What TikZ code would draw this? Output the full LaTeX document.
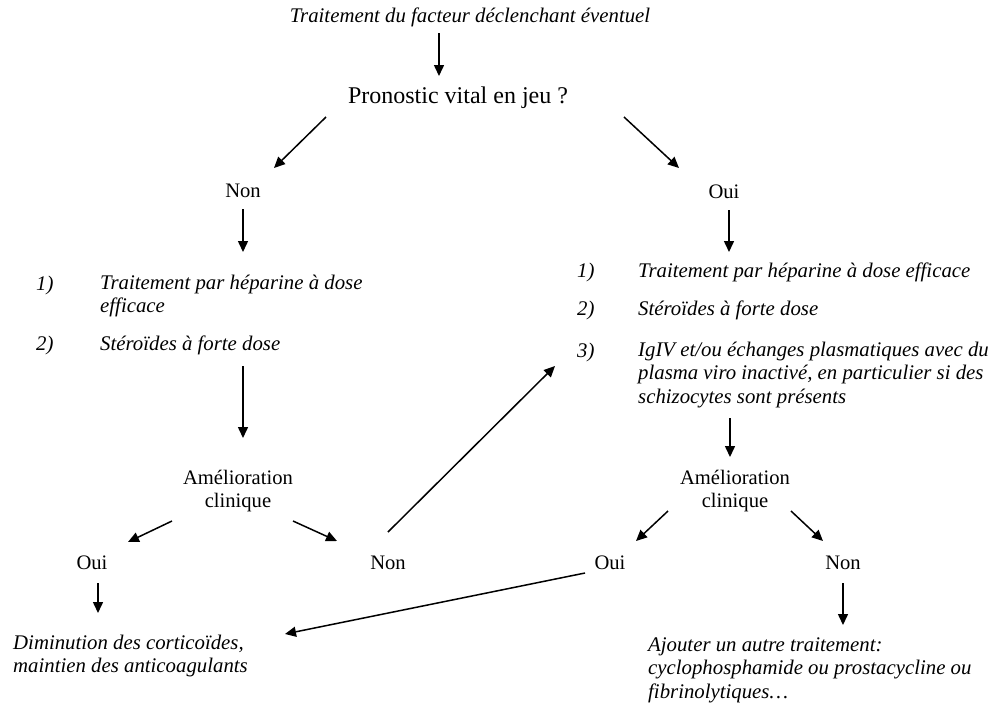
\documentclass[tikz,border=0pt]{standalone}
\usepackage{fontspec}
\setmainfont{Liberation Serif}
\usetikzlibrary{arrows.meta}
\tikzset{
  txt/.style={inner sep=0pt, font=\fontsize{20.6}{23.5}\selectfont},
  itxt/.style={inner sep=0pt, font=\fontsize{20.8}{23.5}\selectfont\itshape, align=left},
  bigtxt/.style={inner sep=0pt, font=\fontsize{24}{28}\selectfont},
  arr/.style={line width=1.5pt, -{Triangle[length=11pt,width=10pt]}},
}
\begin{document}
\begin{tikzpicture}[x=1pt,y=-1pt]
\fill[white] (0,0) rectangle (991,705);
\useasboundingbox (0,0) rectangle (991,705);

% texts
\node[itxt] (top) at (470,17) {Traitement du facteur déclenchant éventuel};
\node[bigtxt] (prono) at (458,98) {Pronostic vital en jeu ?};
\node[txt] (nonA) at (243,191) {Non};
\node[txt] (ouiA) at (724,192) {Oui};

\node[itxt, anchor=west] (l1n) at (36,285) {1)};
\node[itxt, anchor=west] (l1) at (100,296) {Traitement par héparine à dose\\efficace};
\node[itxt, anchor=west] (l2n) at (36,345) {2)};
\node[itxt, anchor=west] (l2) at (100,345) {Stéroïdes à forte dose};

\node[itxt, anchor=west] (r1n) at (577,272) {1)};
\node[itxt, anchor=west] (r1) at (638,272) {Traitement par héparine à dose efficace};
\node[itxt, anchor=west] (r2n) at (577,310) {2)};
\node[itxt, anchor=west] (r2) at (638,310) {Stéroïdes à forte dose};
\node[itxt, anchor=west] (r3n) at (577,352) {3)};
\node[itxt, anchor=west] (r3) at (638,375) {IgIV et/ou échanges plasmatiques avec du\\plasma viro inactivé, en particulier si des\\schizocytes sont présents};

\node[txt, align=center] (amL) at (238,491) {Amélioration\\clinique};
\node[txt, align=center] (amR) at (735,491) {Amélioration\\clinique};

\node[txt] (ouiL) at (92,563) {Oui};
\node[txt] (nonL) at (388,563) {Non};
\node[txt] (ouiR) at (610,563) {Oui};
\node[txt] (nonR) at (843,563) {Non};

\node[itxt, anchor=west] (dim) at (13,656) {Diminution des corticoïdes,\\maintien des anticoagulants};
\node[itxt, anchor=west] (ajo) at (648,670) {Ajouter un autre traitement:\\cyclophosphamide ou prostacycline ou\\fibrinolytiques\dots};

% connector end points
\coordinate (a1s) at (439,33);  \coordinate (a1e) at (439,76);
\coordinate (a2s) at (326,117); \coordinate (a2e) at (274,168);
\coordinate (a3s) at (624,117); \coordinate (a3e) at (679,168);
\coordinate (a4s) at (243,209); \coordinate (a4e) at (243,252);
\coordinate (a5s) at (729,210); \coordinate (a5e) at (729,252);
\coordinate (a6s) at (243,366); \coordinate (a6e) at (243,438);
\coordinate (a7s) at (730,418); \coordinate (a7e) at (730,457);
\coordinate (a8s) at (172,521); \coordinate (a8e) at (128,542);
\coordinate (a9s) at (293,521); \coordinate (a9e) at (337,541);
\coordinate (a10s) at (668,511); \coordinate (a10e) at (636,541);
\coordinate (a11s) at (791,511); \coordinate (a11e) at (823,541);
\coordinate (a12s) at (98,583); \coordinate (a12e) at (98,613);
\coordinate (a13s) at (388,532); \coordinate (a13e) at (555,366);
\coordinate (a14s) at (585,573); \coordinate (a14e) at (285,634);
\coordinate (a15s) at (843,583); \coordinate (a15e) at (843,625);

\foreach \i in {1,...,15} {\draw[arr] (a\i s) -- (a\i e);}
\end{tikzpicture}
\end{document}
